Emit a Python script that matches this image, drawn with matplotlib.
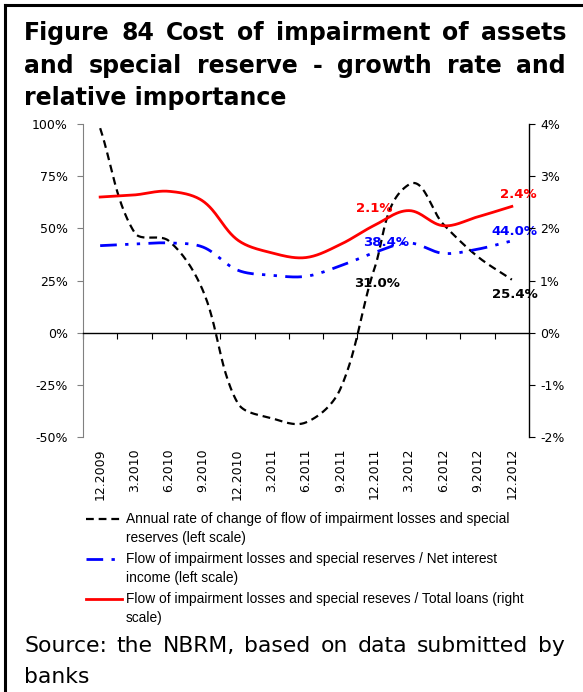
import matplotlib
matplotlib.use("Agg")
import matplotlib.pyplot as plt
import numpy as np
from matplotlib import font_manager
from matplotlib.lines import Line2D

# Dane
quarters = ["12.2009", "3.2010", "6.2010", "9.2010", "12.2010", "3.2011", "6.2011",
            "9.2011", "12.2011", "3.2012", "6.2012", "9.2012", "12.2012"]
annual_rate = [98.0, 48.0, 44.0, 20.0, -33.5, -41.0, -43.0, -27.0, 31.0, 71.0, 52.0, 36.5, 25.4]
to_interest = [41.7, 42.5, 43.0, 41.0, 30.0, 27.5, 27.0, 32.0, 38.4, 43.0, 38.0, 40.0, 44.0]
to_loans = [2.60, 2.64, 2.71, 2.52, 1.78, 1.53, 1.44, 1.69, 2.06, 2.34, 2.05, 2.22, 2.42]
labelled = [8, 12]  # indeksy punktow z etykietami

W, H = 583, 692
fig = plt.figure(figsize=(W / 100, H / 100), dpi=100)
renderer = fig.canvas.get_renderer()

names = {f.name for f in font_manager.fontManager.ttflist}
narrow = "Liberation Sans Narrow" if "Liberation Sans Narrow" in names else "Liberation Sans"


def fx(px):
    return px / W


def fy(py):
    return 1 - py / H


def text_width(s, **kw):
    t = fig.text(0, 0, s, **kw)
    w = t.get_window_extent(renderer).width
    t.remove()
    return w


def justify(line, x0, x1, y, **kw):
    words = line.split()
    widths = [text_width(w, **kw) for w in words]
    gap = (x1 - x0 - sum(widths)) / max(len(words) - 1, 1)
    x = x0
    for w, wd in zip(words, widths):
        fig.text(fx(x), fy(y), w, ha="left", va="center", **kw)
        x += wd + gap


def fit_size(line, target, size, **kw):
    w = text_width(line, fontsize=size, **kw)
    return min(size, size * target / w)


# Wygladzanie w stylu Excela: krzywe Beziera w pikselach,
# punkty kontrolne skalowane dlugoscia sasiednich odcinkow
def smooth(axis, vals, n=30):
    pts = axis.transData.transform(np.column_stack([np.arange(len(vals)), vals]))
    out = [pts[:1]]
    k = 1 / 3
    for i in range(len(pts) - 1):
        p1, p2 = pts[i], pts[i + 1]
        p0 = pts[i - 1] if i > 0 else p1
        p3 = pts[i + 2] if i + 2 < len(pts) else p2
        seg = np.linalg.norm(p2 - p1)
        d1 = p2 - p0
        d2 = p3 - p1
        d1 = d1 / np.linalg.norm(d1)
        d2 = d2 / np.linalg.norm(d2)
        c1 = p1 + d1 * seg * k
        c2 = p2 - d2 * seg * k
        t = np.linspace(0, 1, n)[1:, None]
        b = ((1 - t) ** 3) * p1 + 3 * ((1 - t) ** 2) * t * c1 + 3 * (1 - t) * t ** 2 * c2 + t ** 3 * p2
        out.append(b)
    curve = axis.transData.inverted().transform(np.vstack(out))
    return curve[:, 0], curve[:, 1]


# Ramka
fig.add_artist(Line2D([fx(5), fx(5)], [0, fy(5)], transform=fig.transFigure, color="black", lw=2.2))
fig.add_artist(Line2D([fx(5), 1], [fy(5), fy(5)], transform=fig.transFigure, color="black", lw=2.2))

# Tytul
title_lines = ["Figure 84 Cost of impairment of assets", "and special reserve - growth rate and"]
ts = fit_size(title_lines[0], 532, 17, fontweight="bold")
justify(title_lines[0], 24, 566, 33, fontsize=ts, fontweight="bold")
justify(title_lines[1], 24, 566, 66, fontsize=ts, fontweight="bold")
fig.text(fx(24), fy(98), "relative importance", ha="left", va="center", fontsize=ts, fontweight="bold")

# Wykres
ax = fig.add_axes([fx(83), fy(437), fx(529) - fx(83), (437 - 124) / H])
ax2 = ax.twinx()

x = np.arange(len(quarters))
ax.set_xlim(-0.5, len(quarters) - 0.5)
ax2.set_xlim(-0.5, len(quarters) - 0.5)
ax.set_ylim(-50, 100)
ax2.set_ylim(-2, 4)

xs, ys = smooth(ax, annual_rate)
ax.plot(xs, ys, color="black", lw=1.6, dashes=(3.5, 2.2))
xs, ys = smooth(ax, to_interest)
ax.plot(xs, ys, color="#0000ff", lw=2.0, dashes=(6, 3, 1.2, 3, 1.2, 3))
xs, ys = smooth(ax2, to_loans)
ax2.plot(xs, ys, color="#ff0000", lw=2.0)

ax.set_yticks(np.arange(-50, 101, 25))
ax.set_yticklabels([f"{v:.0f}%" for v in np.arange(-50, 101, 25)])
ax2.set_yticks(np.arange(-2, 5, 1))
ax2.set_yticklabels([f"{v:.0f}%" for v in np.arange(-2, 5, 1)])

for a in (ax, ax2):
    a.spines["top"].set_visible(False)
    a.patch.set_visible(False)
ax.spines["right"].set_visible(False)
ax2.spines["left"].set_visible(False)
ax2.spines["bottom"].set_visible(False)
ax.spines["left"].set_color("#808080")
ax.spines["bottom"].set_position(("data", 0))
ax.spines["bottom"].set_linewidth(1.0)
ax2.spines["right"].set_linewidth(1.0)

ax.tick_params(axis="y", direction="out", length=4, color="#808080", pad=7, labelsize=9)
ax2.tick_params(axis="y", direction="out", length=4, color="black", pad=4, labelsize=9)
ax.set_xticks(np.arange(-0.5, len(quarters), 1))
ax.set_xticklabels([])
ax.tick_params(axis="x", direction="out", length=4.5, color="black")

sec = ax.secondary_xaxis("bottom")
sec.set_xticks(x)
sec.set_xticklabels(quarters, rotation=90, fontsize=9)
sec.tick_params(length=0, pad=8)
sec.spines["bottom"].set_visible(False)

# Etykiety danych
offsets_rate = {8: (1.5, -11.5), 12: (2, -11)}
offsets_int = {8: (8, 7), 12: (2, 6.5)}
offsets_loans = {8: (0, 12), 12: (5, 8.5)}
for i in labelled:
    ax.annotate(f"{annual_rate[i]:.1f}%", (i, annual_rate[i]), xytext=offsets_rate[i],
                textcoords="offset points", ha="center", va="center",
                fontsize=9.5, fontweight="bold", color="black")
    ax.annotate(f"{to_interest[i]:.1f}%", (i, to_interest[i]), xytext=offsets_int[i],
                textcoords="offset points", ha="center", va="center",
                fontsize=9.5, fontweight="bold", color="#0000ff")
    ax2.annotate(f"{to_loans[i]:.1f}%", (i, to_loans[i]), xytext=offsets_loans[i],
                 textcoords="offset points", ha="center", va="center",
                 fontsize=9.5, fontweight="bold", color="#ff0000")

# Legenda
legend_rows = [
    (dict(color="black", lw=1.6, dashes=(3.5, 2.2)),
     ["Annual rate of change of flow of impairment losses and special", "reserves (left scale)"], 519),
    (dict(color="#0000ff", lw=2.0, dashes=(6, 3, 1.2, 3, 1.2, 3)),
     ["Flow of impairment losses and special reserves / Net interest", "income (left scale)"], 559),
    (dict(color="#ff0000", lw=2.0),
     ["Flow of impairment losses and special reseves / Total loans (right", "scale)"], 599),
]
ls = fit_size(legend_rows[0][1][0], 383, 11.5, family=narrow)
for style, lines, y0 in legend_rows:
    fig.add_artist(Line2D([fx(86), fx(122)], [fy(y0), fy(y0)], transform=fig.transFigure, **style))
    for k, line in enumerate(lines):
        fig.text(fx(126), fy(y0 + 19 * k), line, ha="left", va="center", fontsize=ls, family=narrow)

# Zrodlo
src = "Source: the NBRM, based on data submitted by"
ss = fit_size(src, 520, 16)
justify(src, 24, 565, 646, fontsize=ss)
fig.text(fx(24), fy(677), "banks", ha="left", va="center", fontsize=ss)

fig.savefig("out.png", dpi=100)
